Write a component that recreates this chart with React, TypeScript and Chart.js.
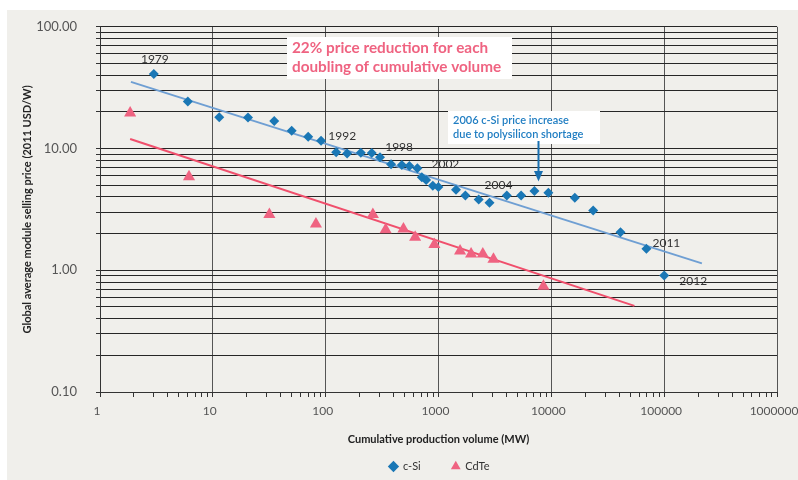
import React, { useEffect, useRef } from "react";
import { Chart, registerables } from "chart.js";

Chart.register(...registerables);

// Cumulative production volume (MW) and module price (2011 USD/W)
const CSI_VOLUME = [
  3.0, 6.0, 11.4, 20.5, 35, 50, 70, 91, 124, 155, 205, 256, 303, 380, 473, 552,
  650, 711, 777, 890, 998, 1430, 1730, 2270, 2830, 4030, 5400, 7080, 9420,
  16150, 23500, 41000, 69600, 100000,
];
const CSI_PRICE = [
  41, 24.4, 18.1, 18, 16.8, 14, 12.5, 11.6, 9.3, 9.1, 9.23, 9.2, 8.5, 7.43,
  7.33, 7.2, 6.9, 5.8, 5.52, 4.94, 4.82, 4.58, 4.12, 3.81, 3.58, 4.12, 4.12,
  4.48, 4.34, 3.95, 3.09, 2.05, 1.5, 0.905,
];

const CDTE_VOLUME = [1.85, 6.15, 31.7, 82, 262, 340, 489, 621, 920, 1553, 1945, 2470, 3070, 8510];
const CDTE_PRICE = [19.6, 5.87, 2.87, 2.4, 2.87, 2.15, 2.18, 1.87, 1.63, 1.44, 1.36, 1.36, 1.23, 0.74];

// Learning-curve fits
const CSI_TREND_VOLUME = [1.88, 216000];
const CSI_TREND_PRICE = [35.3, 1.14];
const CDTE_TREND_VOLUME = [1.85, 54500];
const CDTE_TREND_PRICE = [11.97, 0.51];

// Year call-outs on c-Si points
const YEAR_LABELS = ["1979", "1992", "1998", "2002", "2004", "2011", "2012"];
const YEAR_POINT_INDEX = [0, 8, 13, 20, 24, 32, 33];

const X_DECADES = [1, 10, 100, 1000, 10000, 100000, 1000000];
const X_TICK_LABELS = ["1", "10", "100", "1000", "10000", "100000", "1000000"];
const Y_DECADES = [0.1, 1, 10, 100];
const Y_TICK_LABELS = ["0.10", "1.00", "10.00", "100.00"];

const NOTE_TITLE = ["22% price reduction for each", "doubling of cumulative volume"];
const NOTE_SHORTAGE = ["2006 c-Si price increase", "due to polysilicon shortage"];

const FONT = "Lato, 'Open Sans', sans-serif";
const BLUE = "#1a77b5";
const PINK = "#ef6381";
const LEGEND_PAD = 31;

// minor grid values 1..9 within every decade
function gridValues(decades: number[]): number[] {
  const out: number[] = [];
  for (let i = 0; i < decades.length - 1; i++) {
    for (let k = 1; k <= 9; k++) out.push(+(decades[i] * k).toPrecision(6));
  }
  out.push(decades[decades.length - 1]);
  return out;
}

function decadeLabel(v: number, decades: number[], labels: string[]): string {
  const i = decades.findIndex((d) => Math.abs(d - v) / d < 1e-9);
  return i >= 0 ? labels[i] : "";
}

function isDecade(v: number): boolean {
  const l = Math.log10(v);
  return Math.abs(l - Math.round(l)) < 1e-9;
}

const decorPlugin = {
  id: "decor",
  afterLayout(chart: any) {
    // centre the legend under the plot and set its row position
    const lg = chart.legend;
    if (!lg) return;
    const area = chart.chartArea;
    const dx = (area.left + area.right) / 2 + 1 - (lg.left + lg.right) / 2;
    lg.left += dx;
    lg.right += dx;
    lg.top = 467 - LEGEND_PAD - 6;
    lg.bottom = chart.height;
  },
  beforeDraw(chart: any) {
    const { ctx } = chart;
    ctx.save();
    ctx.fillStyle = "#f0efeb";
    ctx.fillRect(7, 10, chart.width - 7, chart.height - 10);
    ctx.restore();
  },
  afterDatasetsDraw(chart: any) {
    const { ctx, scales } = chart;
    const xs = scales.x;
    const ys = scales.y;
    ctx.save();

    // year labels next to their points
    const offsets = [
      [1, -15],
      [6, -16],
      [8, -17],
      [7, -23],
      [9, -18],
      [20, -6],
      [29, 6],
    ];
    ctx.font = `12px ${FONT}`;
    ctx.fillStyle = "#333";
    ctx.textAlign = "center";
    ctx.textBaseline = "middle";
    YEAR_LABELS.forEach((t, i) => {
      const k = YEAR_POINT_INDEX[i];
      const px = xs.getPixelForValue(CSI_VOLUME[k]);
      const py = ys.getPixelForValue(CSI_PRICE[k]);
      ctx.fillText(t, px + offsets[i][0], py + offsets[i][1]);
    });

    // learning-rate note
    ctx.fillStyle = "#ffffff";
    ctx.fillRect(287, 37, 225, 42);
    ctx.fillStyle = PINK;
    ctx.font = `bold 15.3px ${FONT}`;
    ctx.textAlign = "left";
    ctx.fillText(NOTE_TITLE[0], 292, 48.5);
    ctx.fillText(NOTE_TITLE[1], 292, 67);

    // polysilicon shortage note with arrow
    ctx.fillStyle = "#ffffff";
    ctx.fillRect(448, 111, 152, 33);
    ctx.fillStyle = "#1f7dc2";
    ctx.font = `600 11px ${FONT}`;
    ctx.fillText(NOTE_SHORTAGE[0], 453, 120);
    ctx.fillText(NOTE_SHORTAGE[1], 453, 134);

    ctx.strokeStyle = "#1a70b0";
    ctx.lineWidth = 2;
    ctx.beginPath();
    ctx.moveTo(538.5, 141);
    ctx.lineTo(538.5, 172);
    ctx.stroke();
    ctx.fillStyle = "#1a70b0";
    ctx.beginPath();
    ctx.moveTo(534, 171);
    ctx.lineTo(543, 171);
    ctx.lineTo(538.5, 181.5);
    ctx.closePath();
    ctx.fill();

    ctx.restore();
  },
};

export default function App() {
  const ref = useRef<HTMLCanvasElement>(null);

  useEffect(() => {
    const xGrid = gridValues(X_DECADES);
    const yGrid = gridValues(Y_DECADES);

    const chart = new Chart(ref.current as HTMLCanvasElement, {
      type: "scatter",
      data: {
        datasets: [
          {
            label: "c-Si",
            data: CSI_VOLUME.map((x, i) => ({ x, y: CSI_PRICE[i] })),
            pointStyle: "rectRot",
            pointRadius: 5,
            backgroundColor: BLUE,
            borderColor: BLUE,
            borderWidth: 0,
            order: 1,
          },
          {
            label: "CdTe",
            data: CDTE_VOLUME.map((x, i) => ({ x, y: CDTE_PRICE[i] })),
            pointStyle: "triangle",
            pointRadius: 7,
            backgroundColor: PINK,
            borderColor: PINK,
            borderWidth: 0,
            order: 1,
          },
          {
            label: "c-Si trend",
            data: CSI_TREND_VOLUME.map((x, i) => ({ x, y: CSI_TREND_PRICE[i] })),
            showLine: true,
            borderColor: "#6f9fd3",
            borderWidth: 2,
            pointRadius: 0,
            order: 2,
          },
          {
            label: "CdTe trend",
            data: CDTE_TREND_VOLUME.map((x, i) => ({ x, y: CDTE_TREND_PRICE[i] })),
            showLine: true,
            borderColor: "#f04f6c",
            borderWidth: 2,
            pointRadius: 0,
            order: 2,
          },
        ],
      },
      options: {
        responsive: false,
        animation: false,
        devicePixelRatio: 1,
        layout: { padding: { top: 20, left: 0, right: 21, bottom: 8 } },
        plugins: {
          legend: {
            position: "bottom",
            maxHeight: 24,
            labels: {
              usePointStyle: true,
              boxHeight: 8,
              boxWidth: 8,
              padding: LEGEND_PAD,
              color: "#333",
              font: { family: FONT, size: 11 },
              filter: (item: any) => item.text === "c-Si" || item.text === "CdTe",
            },
          },
          tooltip: { enabled: false },
        },
        scales: {
          x: {
            type: "logarithmic",
            min: 1,
            max: 1000000,
            afterBuildTicks: (s: any) => {
              s.ticks = xGrid.map((v) => ({ value: v }));
            },
            afterFit: (s: any) => {
              s.height = 56;
              s.paddingLeft = 0;
              s.paddingRight = 0;
            },
            grid: {
              color: (c: any) => (c.tick && isDecade(c.tick.value) ? "#555" : "rgba(0,0,0,0)"),
              tickColor: "#333",
              tickLength: 5,
              lineWidth: 1,
            },
            border: { display: true, color: "#333", width: 1 },
            ticks: {
              autoSkip: false,
              maxRotation: 0,
              padding: 7,
              labelOffset: -3,
              color: "#555",
              font: { family: FONT, size: 12 },
              callback: (v: any) => decadeLabel(Number(v), X_DECADES, X_TICK_LABELS),
            },
            title: {
              display: true,
              text: "Cumulative production volume (MW)",
              color: "#222",
              font: { family: FONT, size: 11, weight: "bold" },
              padding: { top: 0, bottom: 2 },
            },
          },
          y: {
            type: "logarithmic",
            min: 0.1,
            max: 100,
            afterBuildTicks: (s: any) => {
              s.ticks = yGrid.map((v) => ({ value: v }));
            },
            afterFit: (s: any) => {
              s.width = 100;
            },
            grid: { color: "#262626", tickColor: "#333", tickLength: 4, lineWidth: 1 },
            border: { display: true, color: "#333", width: 1 },
            ticks: {
              autoSkip: false,
              padding: 19,
              color: "#555",
              font: { family: FONT, size: 13 },
              callback: (v: any) => decadeLabel(Number(v), Y_DECADES, Y_TICK_LABELS),
            },
            title: {
              display: true,
              text: "Global average module selling price (2011 USD/W)",
              color: "#222",
              font: { family: FONT, size: 11, weight: "bold" },
              padding: { top: 21, bottom: 0 },
            },
          },
        },
      } as any,
      plugins: [decorPlugin],
    });

    return () => chart.destroy();
  }, []);

  return (
    <div style={{ position: "absolute", left: 0, top: 0, width: 798, height: 480, background: "#fff" }}>
      <canvas ref={ref} width={798} height={480} style={{ display: "block", width: 798, height: 480 }} />
    </div>
  );
}
